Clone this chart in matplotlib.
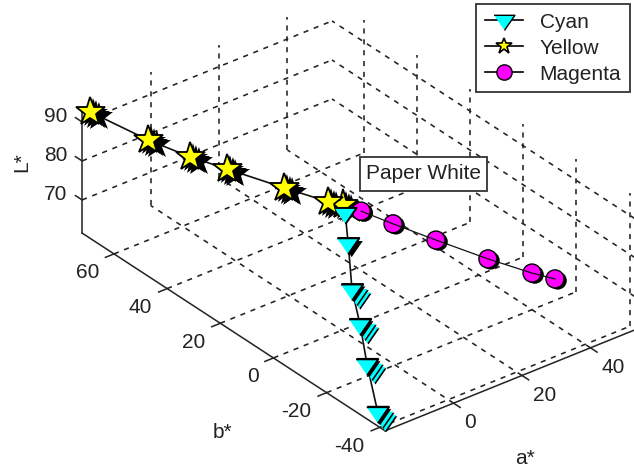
import matplotlib
matplotlib.use("Agg")
import matplotlib.pyplot as plt
import matplotlib.patheffects as pe
from matplotlib.lines import Line2D
from matplotlib.patches import Rectangle
from mpl_toolkits.mplot3d import proj3d

plt.rcParams["font.family"] = ["Liberation Sans", "DejaVu Sans"]

# measured colour values
cyan_a = [-2, -6, -10, -13, -16, -19]
cyan_b = [-3.8, -10.1, -16.7, -23.6, -30.1, -38]
cyan_L = [94, 90.3, 82.8, 78, 71.7, 64]

yellow_a = [-1, -2, -5, -9, -12, -15, -19]
yellow_b = [-1.7, 2.6, 15.3, 31.6, 41.6, 53.5, 70.2]
yellow_L = [94.8, 94, 93, 92, 91.7, 91.8, 93]

magenta_a = [3, 13, 25, 38, 47, 52]
magenta_b = [-3.4, -2.5, -3.2, -6, -11, -13.2]
magenta_L = [92.5, 85.3, 77.2, 69, 64.4, 62.1]

a_ticks = [0, 20, 40]
b_ticks = [-40, -20, 0, 20, 40, 60]
L_ticks = [70, 80, 90]

a_min, a_max = -20, 53
b_min, b_max = -42, 72
L_min, L_max = 61.5, 95.6

W, H = 634, 467
DARK = "#222222"
FS = 15


def shadow(*layers):
    effects = [pe.SimplePatchShadow(offset=o, shadow_rgbFace=c, alpha=1) for o, c in layers]
    return effects + [pe.Normal()]


def label(a, b, L, s, ha):
    # place the text where the 3D point lands on the axes plane
    x, y, _ = proj3d.proj_transform(a, b, L, ax.get_proj())
    ax.text2D(x, y, s, transform=ax.transData, ha=ha, va="center", fontsize=FS, color=DARK)


fig = plt.figure(figsize=(W / 100, H / 100), dpi=100)
S = 586.6
ax = fig.add_axes([57.3 / W, -49.2 / H, S / W, S / H], projection="3d",
                  proj_type="ortho", computed_zorder=False)
ax.view_init(elev=30.9, azim=231.8)
ax.set_xlim(a_min, a_max)
ax.set_ylim(b_min, b_max)
ax.set_zlim(L_min, L_max)
ax.set_box_aspect((318, 490, 155))
ax.set_axis_off()

grid = dict(color=DARK, lw=1.15, ls=(0, (3.2, 3.6)), zorder=1)
for a in a_ticks:
    ax.plot([a, a], [b_min, b_max], [L_min, L_min], **grid)
    ax.plot([a, a], [b_max, b_max], [L_min, L_max], **grid)
for b in b_ticks:
    ax.plot([a_min, a_max], [b, b], [L_min, L_min], **grid)
    ax.plot([a_max, a_max], [b, b], [L_min, L_max], **grid)
for L in L_ticks:
    ax.plot([a_min, a_max], [b_max, b_max], [L, L], **grid)
    ax.plot([a_max, a_max], [b_min, b_max], [L, L], **grid)

# axes lines and tick marks
axis = dict(color=DARK, lw=1.1, zorder=2)
ax.plot([a_min, a_max], [b_min, b_min], [L_min, L_min], **axis)
ax.plot([a_min, a_min], [b_min, b_max], [L_min, L_min], **axis)
ax.plot([a_min, a_min], [b_max, b_max], [L_min, L_max - 2], **axis)
for a in a_ticks:
    ax.plot([a, a], [b_min, b_min - 2.5], [L_min, L_min], **axis)
    label(a, b_min - 4, L_min - 3.3, str(a), "left")
for b in b_ticks:
    ax.plot([a_min, a_min - 2.5], [b, b], [L_min, L_min], **axis)
    label(a_min - 4.4, b, L_min - 3.3, str(b), "right")
for L in L_ticks:
    ax.plot([a_min, a_min], [b_max, b_max + 2.5], [L, L], **axis)
    label(a_min, b_max + 5.6, L - 1.2, str(L), "right")

# series
star = dict(ls="none", marker="*", ms=22, mfc="#FFFF00", mec="k", mew=1.3)
tri_verts = [(-1, 0.5), (1, 0.5), (0, -0.95)]
tri = dict(ls="none", marker=tri_verts, ms=16, mfc="#00FFFF", mec="k", mew=1.4)
circ = dict(ls="none", marker="o", ms=13, mfc="#FF00FF", mec="k", mew=1.0)
conn = dict(color="#111111", lw=1.2)

ax.plot(yellow_a, yellow_b, yellow_L, zorder=3, **conn)
ax.plot(yellow_a, yellow_b, yellow_L, zorder=5, **star,
        path_effects=shadow(((6, -3.5), "k"), ((4, -2.5), "k"), ((2, -1), "k")))

ax.plot(magenta_a, magenta_b, magenta_L, zorder=5, **circ,
        path_effects=shadow(((2, -1.2), "k")))
ax.plot(magenta_a, magenta_b, magenta_L, zorder=6, color="#111111", lw=0.9)

ax.plot(cyan_a, cyan_b, cyan_L, zorder=3, **conn)
ax.plot(cyan_a[2:], cyan_b[2:], cyan_L[2:], zorder=6, **tri,
        path_effects=shadow(((6, -6.5), "k"), ((5.2, -5.6), "#00FFFF"), ((4, -4), "k"),
                            ((3.2, -3.2), "#00FFFF"), ((1.6, -1.4), "k"), ((0.5, 1), "k")))
ax.plot(cyan_a[1:2], cyan_b[1:2], cyan_L[1:2], zorder=6, **tri,
        path_effects=shadow(((2.5, -2), "k"), ((0.5, 0.8), "k")))
ax.plot(cyan_a[:1], cyan_b[:1], cyan_L[:1], zorder=6, **tri)

# Paper White label
fig.add_artist(Rectangle((360 / W, 1 - 191 / H), 127 / W, 34 / H, transform=fig.transFigure,
                         fc="white", ec="#333333", lw=1.3, zorder=2))
fig.text(423.5 / W, 1 - 174 / H, "Paper White", ha="center", va="center",
         fontsize=FS, color=DARK, zorder=3)

fig.text(222 / W, 1 - 433 / H, "b*", ha="center", va="center", fontsize=FS, color=DARK)
fig.text(525 / W, 1 - 459 / H, "a*", ha="center", va="center", fontsize=FS, color=DARK)
fig.text(22 / W, 1 - 162 / H, "L*", ha="center", va="center", rotation=90, fontsize=FS, color=DARK)

handles = [
    Line2D([], [], color="k", lw=1.2, marker=tri_verts, ms=15, mfc="#00FFFF", mec="k", mew=1.0),
    Line2D([], [], color="k", lw=1.2, marker="*", ms=12, mfc="#FFFF00", mec="k", mew=1.2),
    Line2D([], [], color="k", lw=1.2, marker="o", ms=11, mfc="#FF00FF", mec="k", mew=1.0),
]
leg = fig.legend(handles, ["Cyan", "Yellow", "Magenta"], loc="upper left",
                 bbox_to_anchor=(476 / W, 1 - 4 / H), borderaxespad=0, fancybox=False,
                 framealpha=1, edgecolor="#333333", fontsize=FS, handlelength=1.83,
                 handletextpad=0.8, labelspacing=0.33, borderpad=0.42, labelcolor=DARK)
leg.get_frame().set_linewidth(1.3)

fig.savefig("out.png", dpi=100)
